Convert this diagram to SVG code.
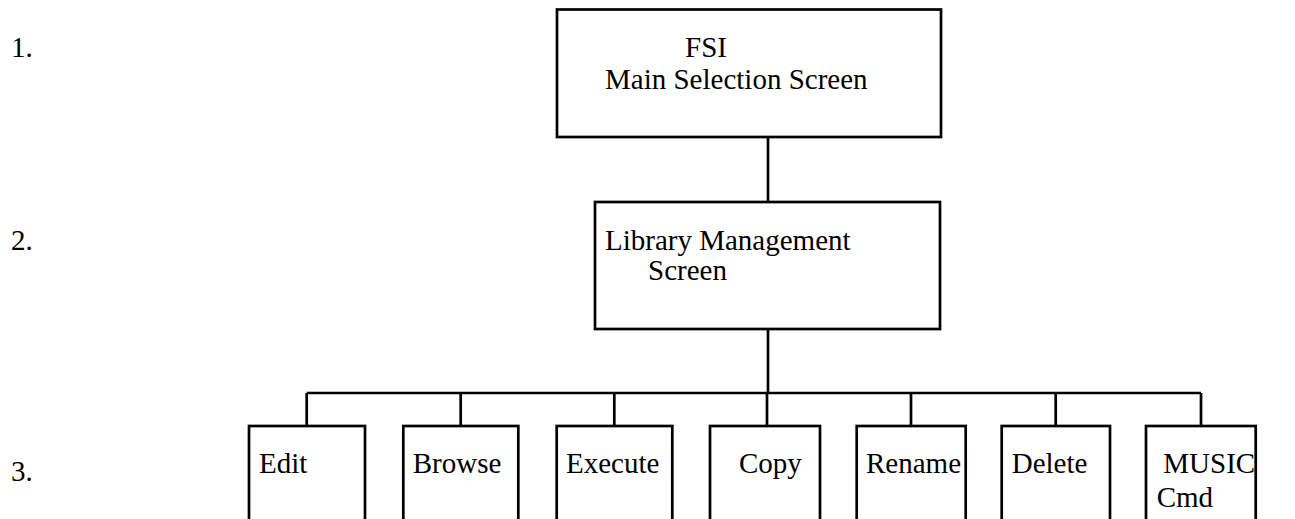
<svg xmlns="http://www.w3.org/2000/svg" width="1295" height="519" viewBox="0 0 1295 519">
<style>
.box{fill:#fff;stroke:#000;stroke-width:2.7}
.ln{fill:none;stroke:#000;stroke-width:2.7}
.t{font-family:'Liberation Serif','Times New Roman','DejaVu Serif',serif;font-size:29px;fill:#000}
</style>
<rect width="1295" height="519" fill="#fff"/>
<g id="levels" class="t" font-family="Liberation Serif, Times New Roman, DejaVu Serif, serif">
<text x="11" y="57">1.</text>
<text x="11" y="250">2.</text>
<text x="11" y="481">3.</text>
</g>
<g id="connectors">
<path class="ln" d="M768 137V202"/>
<path class="ln" d="M768 329V393"/>
<path class="ln" d="M306.7 393H1201"/>
<path class="ln" d="M306.7 393V426M460.7 393V426M614.3 393V426M767 393V426M911 393V426M1055.7 393V426M1201 393V426"/>
</g>
<g id="fsi" class="t" font-family="Liberation Serif, Times New Roman, DejaVu Serif, serif">
<rect class="box" x="557" y="9.5" width="384" height="127.5"/>
<text x="685" y="57">FSI</text>
<text x="605" y="89">Main Selection Screen</text>
</g>
<g id="library" class="t" font-family="Liberation Serif, Times New Roman, DejaVu Serif, serif">
<rect class="box" x="595" y="202" width="345" height="127"/>
<text x="605" y="250">Library Management</text>
<text x="648" y="280">Screen</text>
</g>
<g id="edit" class="t"><rect class="box" x="249" y="426" width="116" height="110"/><text x="259" y="473">Edit</text></g>
<g id="browse" class="t"><rect class="box" x="403.3" y="426" width="115" height="110"/><text x="412.7" y="473">Browse</text></g>
<g id="execute" class="t"><rect class="box" x="556.7" y="426" width="115.6" height="110"/><text x="566" y="473">Execute</text></g>
<g id="copy" class="t"><rect class="box" x="710" y="426" width="110" height="110"/><text x="739" y="473">Copy</text></g>
<g id="rename" class="t"><rect class="box" x="856.7" y="426" width="109" height="110"/><text x="866" y="473">Rename</text></g>
<g id="delete" class="t"><rect class="box" x="1001.7" y="426" width="108.3" height="110"/><text x="1011.7" y="473">Delete</text></g>
<g id="music" class="t"><rect class="box" x="1146" y="426" width="109.7" height="110"/><text x="1163.3" y="473">MUSIC</text><text x="1156.7" y="507">Cmd</text></g>
</svg>
